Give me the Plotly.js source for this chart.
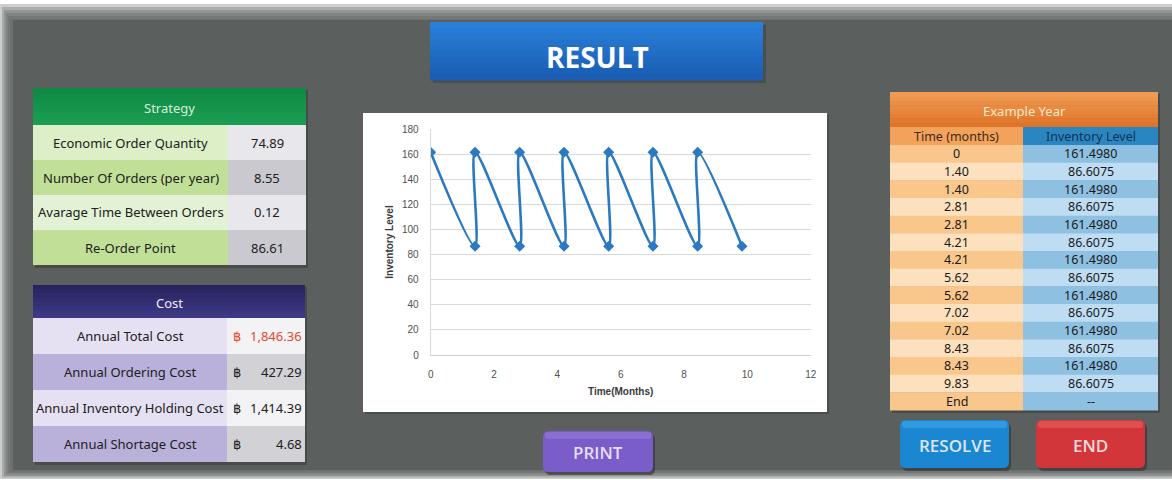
<!DOCTYPE html>
<html>
<head>
<meta charset="utf-8">
<script src="https://cdn.plot.ly/plotly-3.0.1.min.js"></script>
<style>
html,body{margin:0;padding:0;background:#ffffff;}
#chart{width:1172px;height:480px;}
</style>
</head>
<body>
<div id="chart"></div>
<script>
// ---------------- data ----------------
const strategyLabels = ['Economic Order Quantity', 'Number Of Orders (per year)', 'Avarage Time Between Orders', 'Re-Order Point'];
const strategyValues = ['74.89', '8.55', '0.12', '86.61'];
const costLabels = ['Annual Total Cost', 'Annual Ordering Cost', 'Annual Inventory Holding Cost', 'Annual Shortage Cost'];
const costValues = ['1,846.36', '427.29', '1,414.39', '4.68'];
const currencySymbol = '฿';
const timeMonths = [0, 1.40, 1.40, 2.81, 2.81, 4.21, 4.21, 5.62, 5.62, 7.02, 7.02, 8.43, 8.43, 9.83];
const inventoryLevel = [161.4980, 86.6075, 161.4980, 86.6075, 161.4980, 86.6075, 161.4980, 86.6075, 161.4980, 86.6075, 161.4980, 86.6075, 161.4980, 86.6075];
const timeLabels = ['0', '1.40', '1.40', '2.81', '2.81', '4.21', '4.21', '5.62', '5.62', '7.02', '7.02', '8.43', '8.43', '9.83', 'End'];
const levelLabels = ['161.4980', '86.6075', '161.4980', '86.6075', '161.4980', '86.6075', '161.4980', '86.6075', '161.4980', '86.6075', '161.4980', '86.6075', '161.4980', '86.6075', '--'];
const xTickVals = [0, 2, 4, 6, 8, 10, 12];
const yTickVals = [0, 20, 40, 60, 80, 100, 120, 140, 160, 180];
const buttonLabels = ['PRINT', 'RESOLVE', 'END'];

// ---------------- helpers ----------------
const W = 1172, H = 480;
const X = x => x / W;
const Y = y => 1 - y / H;
const shapes = [];
const annotations = [];
const FONT = 'Noto Sans, DejaVu Sans, sans-serif';

function rect(x0, y0, x1, y1, color, opacity) {
  shapes.push({type: 'rect', xref: 'paper', yref: 'paper', layer: 'below',
    x0: X(x0), x1: X(x1), y0: Y(y1), y1: Y(y0),
    fillcolor: color, opacity: opacity == null ? 1 : opacity, line: {width: 0}});
}
function hex2rgb(h) { return [parseInt(h.slice(1,3),16), parseInt(h.slice(3,5),16), parseInt(h.slice(5,7),16)]; }
function mix(c0, c1, t) {
  const a = hex2rgb(c0), b = hex2rgb(c1);
  return 'rgb(' + a.map((v, i) => Math.round(v + (b[i] - v) * t)).join(',') + ')';
}
function gradRect(x0, y0, x1, y1, c0, c1, n) {
  const h = (y1 - y0) / n;
  for (let i = 0; i < n; i++) rect(x0, y0 + i * h, x1, y0 + (i + 1) * h + 0.6, mix(c0, c1, i / (n - 1)));
}
function roundRect(x0, y0, x1, y1, r, color, opacity) {
  const p = (x, y) => X(x) + ',' + Y(y);
  const path = 'M' + p(x0 + r, y0) + ' L' + p(x1 - r, y0) + ' Q' + p(x1, y0) + ' ' + p(x1, y0 + r) +
    ' L' + p(x1, y1 - r) + ' Q' + p(x1, y1) + ' ' + p(x1 - r, y1) +
    ' L' + p(x0 + r, y1) + ' Q' + p(x0, y1) + ' ' + p(x0, y1 - r) +
    ' L' + p(x0, y0 + r) + ' Q' + p(x0, y0) + ' ' + p(x0 + r, y0) + ' Z';
  shapes.push({type: 'path', xref: 'paper', yref: 'paper', layer: 'below', path: path,
    fillcolor: color, opacity: opacity == null ? 1 : opacity, line: {width: 0}});
}
function txt(x, y, text, size, color, opts) {
  opts = opts || {};
  annotations.push({xref: 'paper', yref: 'paper', x: X(x), y: Y(y), text: text, showarrow: false,
    xanchor: opts.anchor || 'center', yanchor: 'middle',
    font: {family: opts.family || FONT, size: size, color: color, weight: opts.weight || 400}});
}

// ---------------- background ----------------
for (let k = 0; k < 6; k++) rect(2 * k, 4 + 3 * k, W, H - 1 - 1.5 * k, '#5b5f5d', 0.3);
rect(13, 20, W, 470, '#5b5f5d');

// ---------------- title banner ----------------
rect(433, 25, 766, 83, '#3f4241', 0.6);
gradRect(430, 22, 763, 80, '#2a7fd8', '#1a5db4', 10);
txt(597, 57, '<b>RESULT</b>', 28, '#ffffff', {family: 'Open Sans, Noto Sans, sans-serif'});

// ---------------- strategy table ----------------
const sL = 33, sM = 228, sR = 306, sTop = 88, sHead = 37, sRow = 35;
rect(sL + 2, sTop + 2, sR + 2, sTop + sHead + 4 * sRow + 3, '#3a3d3c', 0.6);
gradRect(sL, sTop, sR, sTop + sHead, '#0f8a45', '#1a9d52', 8);
txt((sL + sR) / 2, sTop + sHead / 2 + 1, 'Strategy', 13, '#d5efd9');
const sLeftCols = ['#dcefc6', '#c2df97'];
const sRightCols = ['#e7e7ec', '#c9c9cf'];
strategyLabels.forEach((lab, i) => {
  const y0 = sTop + sHead + i * sRow;
  rect(sL, y0, sM, y0 + sRow, i === 2 ? '#e3f1d6' : sLeftCols[i % 2]);
  rect(sM, y0, sR, y0 + sRow, sRightCols[i % 2]);
  txt((sL + sM) / 2, y0 + sRow / 2, lab, 13, '#202020');
  txt((sM + sR) / 2, y0 + sRow / 2, strategyValues[i], 13, '#202020');
});

// ---------------- cost table ----------------
const cL = 33, cM = 227, cR = 305, cTop = 285, cHead = 33, cRow = 36;
rect(cL + 2, cTop + 2, cR + 2, cTop + cHead + 4 * cRow + 3, '#3a3d3c', 0.6);
gradRect(cL, cTop, cR, cTop + cHead, '#28235e', '#3d3a85', 8);
txt((cL + cR) / 2, cTop + cHead / 2 + 1, 'Cost', 13, '#ecebf6');
const cLeftCols = ['#e5e1f2', '#b9b1da'];
const cRightCols = ['#f3f3f5', '#d1d1d6'];
costLabels.forEach((lab, i) => {
  const y0 = cTop + cHead + i * cRow;
  rect(cL, y0, cM, y0 + cRow, cLeftCols[i % 2]);
  rect(cM, y0, cR, y0 + cRow, cRightCols[i % 2]);
  txt((cL + cM) / 2, y0 + cRow / 2, lab, 13, '#202020');
  const col = i === 0 ? '#e24a2c' : '#202020';
  txt(231, y0 + cRow / 2, currencySymbol, 13, col, {anchor: 'left', family: 'DejaVu Sans, sans-serif'});
  txt(304, y0 + cRow / 2, costValues[i], 13, col, {anchor: 'right'});
});

// ---------------- chart box ----------------
rect(365, 115, 829, 414, '#3a3d3c', 0.5);
rect(363, 113, 827, 412, '#ffffff');

// ---------------- example year table ----------------
const eL = 890, eM = 1023, eR = 1158, eTop = 92, eHead = 35, eCol = 18, eRow = 17.67;
rect(eL + 2, eTop + 2, eR + 2, eTop + eHead + eCol + timeLabels.length * eRow + 3, '#3a3d3c', 0.6);
gradRect(eL, eTop, eR, eTop + eHead, '#f09a52', '#e0752a', 8);
txt((eL + eR) / 2, eTop + eHead / 2 + 1, 'Example Year', 13, '#f7e9c9');
rect(eL, eTop + eHead, eM, eTop + eHead + eCol, '#f3a25c');
rect(eM, eTop + eHead, eR, eTop + eHead + eCol, '#2a86c1');
txt((eL + eM) / 2, eTop + eHead + eCol / 2, 'Time (months)', 12.5, '#3b2a18');
txt((eM + eR) / 2, eTop + eHead + eCol / 2, 'Inventory Level', 12.5, '#16324f');
const eLeftCols = ['#f9c78b', '#fde1be'];
const eRightCols = ['#8ec0e2', '#bedcf2'];
timeLabels.forEach((lab, i) => {
  const y0 = eTop + eHead + eCol + i * eRow;
  rect(eL, y0, eM, y0 + eRow + 0.4, eLeftCols[i % 2]);
  rect(eM, y0, eR, y0 + eRow + 0.4, eRightCols[i % 2]);
  txt((eL + eM) / 2, y0 + eRow / 2, lab, 12.5, '#1a1a1a');
  txt((eM + eR) / 2, y0 + eRow / 2, levelLabels[i], 12.5, '#1a1a1a');
});

// ---------------- buttons ----------------
const btns = [
  {x0: 543, y0: 431, x1: 653, y1: 472, c: '#7b5dc9', hi: '#9278d6', t: '#e6def7'},
  {x0: 900, y0: 420, x1: 1009, y1: 468, c: '#1b86d2', hi: '#3aa2e6', t: '#dbe7f1'},
  {x0: 1036, y0: 420, x1: 1145, y1: 468, c: '#d3363a', hi: '#e25a5a', t: '#f3dada'}
];
btns.forEach((b, i) => {
  roundRect(b.x0 + 2, b.y0 + 3, b.x1 + 2, b.y1 + 3, 6, '#2e3130', 0.6);
  roundRect(b.x0, b.y0, b.x1, b.y1, 6, b.c);
  roundRect(b.x0 + 2, b.y0 + 1, b.x1 - 2, b.y0 + 8, 3, b.hi, 0.7);
  txt((b.x0 + b.x1) / 2, (b.y0 + b.y1) / 2 + 1, buttonLabels[i], 17, b.t, {family: 'Open Sans, Noto Sans, sans-serif', weight: 600});
});

// ---------------- plot ----------------
const trace = {
  type: 'scatter', mode: 'lines+markers',
  x: timeMonths, y: inventoryLevel,
  line: {color: '#2b79c1', width: 2.6, shape: 'spline', smoothing: 0.8},
  marker: {symbol: 'diamond', size: 8.5, color: '#2b79c1'},
  hoverinfo: 'skip'
};
const layout = {
  width: W, height: H,
  margin: {l: 0, r: 0, t: 0, b: 0},
  paper_bgcolor: '#ffffff',
  plot_bgcolor: 'rgba(0,0,0,0)',
  showlegend: false,
  xaxis: {
    domain: [430.7 / W, 810.7 / W], range: [0, 12],
    tickvals: xTickVals, ticktext: xTickVals.map(String),
    showgrid: false, zeroline: false, showline: true, linecolor: '#d0d0d0', linewidth: 1,
    ticks: '', ticklabelstandoff: 10,
    tickfont: {family: 'Liberation Sans, Arial, sans-serif', size: 10, color: '#505050'},
    title: {text: '<b>Time(Months)</b>', standoff: 8, font: {family: 'Liberation Sans, Arial, sans-serif', size: 10, color: '#3a3a3a'}},
    fixedrange: true
  },
  yaxis: {
    domain: [1 - 355 / H, 1 - 129 / H], range: [0, 180],
    tickvals: yTickVals, ticktext: yTickVals.map(String),
    showgrid: true, gridcolor: '#d9d9d9', gridwidth: 1, zeroline: false,
    showline: true, linecolor: '#d9d9d9', linewidth: 1,
    ticks: '', ticklabelstandoff: 9,
    tickfont: {family: 'Liberation Sans, Arial, sans-serif', size: 10, color: '#505050'},
    title: {text: '<b>Inventory Level</b>', standoff: 6, font: {family: 'Liberation Sans, Arial, sans-serif', size: 10, color: '#3a3a3a'}},
    fixedrange: true
  },
  shapes: shapes,
  annotations: annotations
};
Plotly.newPlot('chart', [trace], layout, {displayModeBar: false, staticPlot: true});
</script>
</body>
</html>
